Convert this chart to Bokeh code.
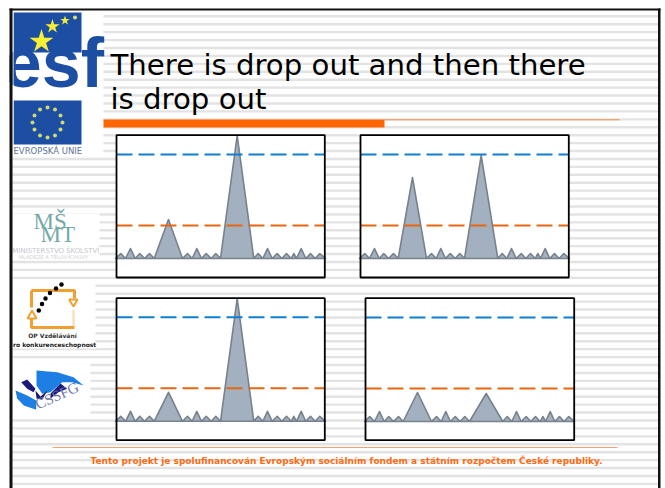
import math
from bokeh.plotting import figure
from bokeh.models import Range1d
from bokeh.core.properties import value
from bokeh.embed import file_html
from bokeh.resources import INLINE

# ---- chart data (samples, amplitude above baseline) ----
sample_x = [0, 5.3, 10, 15, 19.7, 24.3, 29, 34, 38.7, 53, 67, 72, 76.7, 81.3, 86, 90.7, 95.7, 100.3, 105,
            121.7, 138.3, 142.7, 147.3, 152, 156.7, 161.7, 166.3, 171, 175.7, 178.3, 181, 185.7, 190.3,
            195, 199.7, 204.3, 210]
trace_a = [0, 5, 0, 10, 0, 5, 0, 5, 0, 39, 0, 5, 0, 10, 0, 5, 0, 5, 0, 123, 0, 5, 0, 10, 0, 5, 0, 5, 0, 5, 0, 10, 0, 5, 0, 5, 0]
trace_b = [0, 5, 0, 10, 0, 5, 0, 5, 0, 81, 0, 5, 0, 10, 0, 5, 0, 5, 0, 103, 0, 5, 0, 10, 0, 5, 0, 5, 0, 5, 0, 10, 0, 5, 0, 5, 0]
trace_c = [0, 5, 0, 10, 0, 5, 0, 5, 0, 29, 0, 5, 0, 10, 0, 5, 0, 5, 0, 123, 0, 5, 0, 10, 0, 5, 0, 5, 0, 5, 0, 10, 0, 5, 0, 5, 0]
trace_d = [0, 5, 0, 10, 0, 5, 0, 5, 0, 29, 0, 5, 0, 10, 0, 5, 0, 5, 0, 28, 0, 5, 0, 10, 0, 5, 0, 5, 0, 5, 0, 10, 0, 5, 0, 5, 0]
threshold_high = 104
threshold_low = 33

title_lines = ["There is drop out and then there", "is drop out"]
footer_text = "Tento projekt je spolufinancován Evropským sociálním fondem a státním rozpočtem České republiky."

# ---- page geometry (screen pixels) ----
W, H = 665, 488
LEFT, TOP = 0, 0
# name, trace, box left, box right, box top, box bottom, origin x, baseline y
panels = [
    ("a", trace_a, 116, 324.3, 134.7, 277, 115, 258),
    ("b", trace_b, 360, 568.3, 134.7, 277, 359, 258),
    ("c", trace_c, 116, 324.3, 297.7, 439.7, 115, 420.8),
    ("d", trace_d, 365, 573.7, 297.7, 439.7, 364, 421),
]

p = figure(width=W, height=H, x_range=Range1d(LEFT, LEFT + W), y_range=Range1d(TOP + H, TOP),
           output_backend="svg", toolbar_location=None, x_axis_location=None, y_axis_location=None,
           min_border=0, min_border_left=0, min_border_right=0, min_border_top=0, min_border_bottom=0,
           background_fill_color="white", border_fill_color="white")
p.grid.visible = False
p.outline_line_color = None

BASE_SHIFT = 0.4  # offset of the "alphabetic" text anchor, in font sizes


def txt(x, y, s, size, color, font="DejaVu Sans", style="normal", align="left", angle=0):
    xs = x - BASE_SHIFT * size * math.sin(angle)
    ys = y - BASE_SHIFT * size * math.cos(angle)
    p.text([xs], [ys], text=[s], text_font=value(font), text_font_size=f"{size}px", text_font_style=style,
           text_color=color, text_align=align, text_baseline="alphabetic", angle=angle)


def box(x0, x1, y0, y1, color, **kw):
    p.quad(left=[x0], right=[x1], top=[y0], bottom=[y1], fill_color=color, line_color=None, **kw)


# ---- background stripes ----
n = 60
ys = [15.8 + 7.925 * i for i in range(n)]
p.segment(x0=[12] * n, x1=[658] * n, y0=ys, y1=ys, line_color="#e3e3e3", line_width=2.4)

# ---- logo backgrounds ----
box(12, 103, 12, 155, "white")
box(12, 99, 213, 258, "white")
box(12, 95, 283, 348, "white")
box(12, 90, 363, 415, "white")

# ---- ESF logo ----
BLUE = "#1c4fa3"
box(13, 81, 12, 52, BLUE)
box(13, 81, 100, 144, BLUE)
txt(103.5, 90, "esf", 70, BLUE, font="Liberation Sans", style="bold", align="right")
box(12, 13, 12, 155, "white")
p.scatter([41, 52, 64.5], [41, 26, 20], marker="star", size=[25, 15, 10], fill_color="#f7ee35", line_color=None)
p.scatter([74.5], [17], marker="circle", size=4, fill_color="#dfe06a", line_color=None)
ring_x = [47, 54.5, 60, 62, 60, 54.5, 47, 39.5, 34, 32, 34, 39.5]
ring_y = [107, 109, 115, 122, 129, 135, 137, 135, 129, 122, 115, 109]
p.scatter(ring_x, ring_y, marker="circle", size=4, fill_color="#cfd872", line_color=None)
txt(13, 154, "EVROPSKÁ UNIE", 8.5, "#5f7398")

# ---- MSMT logo ----
TEAL = "#74aaa6"
txt(33, 230, "MŠ", 23, TEAL, font="Liberation Serif")
txt(40, 243, "MT", 23, TEAL, font="Liberation Serif")
txt(12, 253, "MINISTERSTVO ŠKOLSTVÍ", 6.9, "#c4c6cc")
txt(18, 258.5, "MLÁDEŽE A TĚLOVÝCHOVY", 5.2, "#d0d2d6")

# ---- OP logo ----
ORANGE = "#f0a030"
p.line([31, 31], [290, 307], line_color=ORANGE, line_width=3)
p.line([31, 31, 74], [318, 327, 327], line_color=ORANGE, line_width=3)
p.line([31, 74, 74], [290, 290, 298], line_color=ORANGE, line_width=3)
p.line([73, 73], [310, 326], line_color="#f4c27c", line_width=2.5, line_dash="1 1")
p.patch([27, 31.5, 36], [318, 310, 318], fill_color="white", line_color=ORANGE, line_width=2)
p.patch([68.5, 77, 73], [299, 299, 306], fill_color="white", line_color=ORANGE, line_width=2)
p.scatter([38.3, 41.5, 45, 49.5, 55.5, 61], [310, 303.5, 298, 292.5, 288, 284], marker="circle", size=4.5,
          fill_color="black", line_color=None)
txt(52, 337.5, "OP Vzdělávání", 6, "#333333", style="bold", align="center")
txt(12.5, 346.5, "ro konkurenceschopnost", 6, "#222222", style="bold")

# ---- CSSFG logo ----
p.patch([36, 56.7, 73, 83, 71.7, 61.7, 50, 41.7, 36], [370, 371.7, 376.7, 385, 381.7, 381.7, 391.7, 393.3, 385],
        fill_color="#1d7fe3", line_color=None)
p.patch([15, 26.7, 35.7, 35.7, 23.3, 16.7], [390, 395, 400, 409.3, 405, 398], fill_color="#1d7fe3", line_color=None)
p.patch([20.7, 26.7, 35, 33, 26.7], [381.7, 379, 388.3, 391.7, 388.3], fill_color="#1a1a78", line_color=None)
p.patch([35, 40, 47, 41.7, 36], [390, 396, 390, 399.3, 398], fill_color="#1a1a78", line_color=None)
p.patch([50, 60, 66.7, 58, 50], [393, 383, 388.3, 391.7, 398], fill_color="#1a1a78", line_color=None)
txt(38, 410, "CSSFG", 15, "#7077a8", font="Liberation Serif", angle=0.42)

# ---- title and rules ----
txt(110, 76, title_lines[0], 29.2, "black")
txt(110, 110, title_lines[1], 29.2, "black")
box(103, 384, 119, 127, "#ff6600")
p.line([384, 619], [119.3, 119.3], line_color="#f08a4b", line_width=1)
p.line([52, 617], [447, 447], line_color="#f3a273", line_width=1.2)
txt(90, 464, footer_text, 9, "#ff6a10", style="bold")

# ---- panels, each with its own scales ----
for name, trace, x0, x1, y0, y1, origin, base in panels:
    xn, yn = f"x_{name}", f"y_{name}"
    p.extra_x_ranges[xn] = Range1d(LEFT - origin, LEFT + W - origin)
    p.extra_y_ranges[yn] = Range1d(base - (TOP + H), base - TOP)
    box(x0, x1, y0, y1, "white")
    p.patch(sample_x, trace, x_range_name=xn, y_range_name=yn, fill_color="#a2b0bf", line_color="#77828d",
            line_width=1.6, line_join="round")
    for level, color in ((threshold_high, "#0e7fd2"), (threshold_low, "#e8660f")):
        p.line([x0 - origin, x1 - origin], [level, level], x_range_name=xn, y_range_name=yn,
               line_color=color, line_width=2, line_dash="16 6")
    p.quad(left=[x0], right=[x1], top=[y0], bottom=[y1], fill_color=None, line_color="black", line_width=1.8)

# ---- slide frame ----
box(0, 9, 0, 488, "white")
box(9, 12, 8, 488, "#111111")
box(9, 660, 8, 10, "#111111")
box(657.5, 660, 8, 488, "#111111")

open("out.html", "w").write(file_html(p, INLINE))
